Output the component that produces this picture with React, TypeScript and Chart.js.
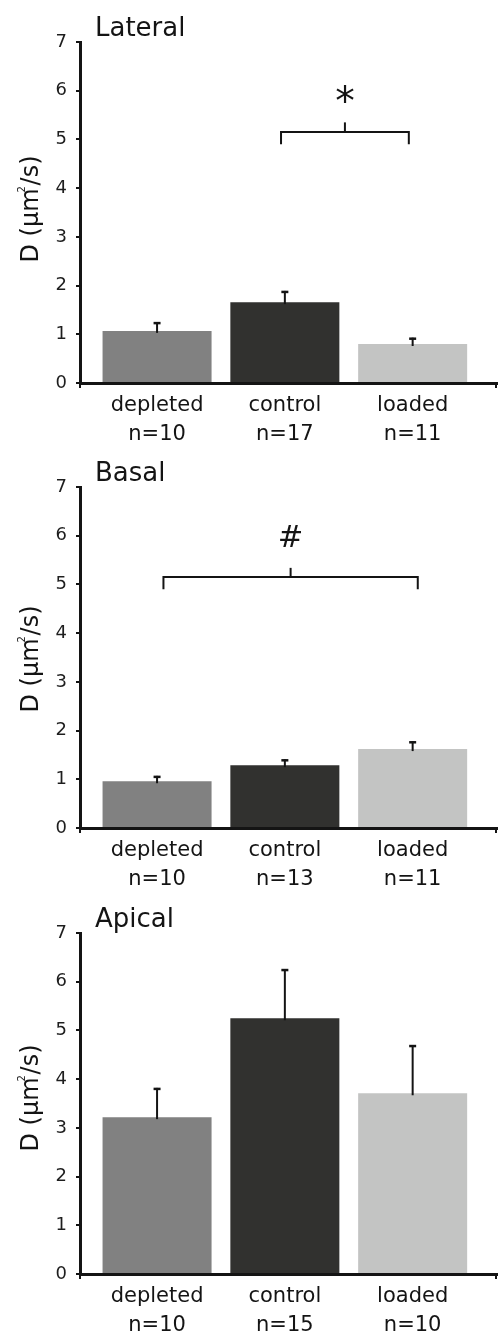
import React, { useEffect, useRef } from "react";
import { Chart, registerables } from "chart.js";

Chart.register(...registerables);

// ---------- data ----------
const categories = ["depleted", "control", "loaded"];

const lateralMeans = [1.07, 1.66, 0.8];
const lateralErrors = [0.18, 0.23, 0.13];
const lateralN = [10, 17, 11];

const basalMeans = [0.96, 1.29, 1.62];
const basalErrors = [0.11, 0.12, 0.16];
const basalN = [10, 13, 11];

const apicalMeans = [3.22, 5.25, 3.71];
const apicalErrors = [0.6, 1.01, 0.99];
const apicalN = [10, 15, 10];

const yMin = 0;
const yMax = 7;

const barColors = ["#818181", "#31312f", "#c3c4c3"];

// significance brackets (data coordinates)
const lateralSig = { from: 0.97, to: 1.97, y: 5.15, drop: 0.25, rise: 0.2, mark: "*", markY: 5.93, markHeight: 18 };
const basalSig = { from: 0.05, to: 2.04, y: 5.15, drop: 0.25, rise: 0.19, mark: "#", markY: 5.99, markHeight: 22 };

const FAMILY = "'DejaVu Sans', Verdana, sans-serif";
const INK = "#141414";

type Sig = typeof lateralSig | null;
type Panel = {
  title: string;
  means: number[];
  errors: number[];
  ns: number[];
  sig: Sig;
  top: number;
  height: number;
  yTitleCenter: number;
};

const panels: Panel[] = [
  { title: "Lateral", means: lateralMeans, errors: lateralErrors, ns: lateralN, sig: lateralSig, top: 0, height: 445, yTitleCenter: 209 },
  { title: "Basal", means: basalMeans, errors: basalErrors, ns: basalN, sig: basalSig, top: 445, height: 446, yTitleCenter: 214 },
  { title: "Apical", means: apicalMeans, errors: apicalErrors, ns: apicalN, sig: null, top: 891, height: 442, yTitleCenter: 207 },
];

const AREA_TOP = 42;
const AREA_BOTTOM = 383;
const AXIS_LEFT = 80;

function PanelChart({ p }: { p: Panel }) {
  const ref = useRef<HTMLCanvasElement | null>(null);

  useEffect(() => {
    const canvas = ref.current;
    if (!canvas) return;

    const overlay = {
      id: "overlay",
      afterDatasetsDraw(chart: any) {
        const ctx: CanvasRenderingContext2D = chart.ctx;
        const xs = chart.scales.x;
        const ys = chart.scales.y;
        const area = chart.chartArea;
        ctx.save();
        ctx.strokeStyle = INK;
        ctx.fillStyle = INK;
        ctx.lineCap = "butt";
        // error bars (upper only)
        p.means.forEach((m, i) => {
          const x = xs.getPixelForValue(i);
          const y0 = ys.getPixelForValue(m);
          const y1 = ys.getPixelForValue(m + p.errors[i]);
          ctx.lineWidth = 2;
          ctx.beginPath();
          ctx.moveTo(x, y0 + 2);
          ctx.lineTo(x, y1);
          ctx.stroke();
          ctx.lineWidth = 2.5;
          ctx.beginPath();
          ctx.moveTo(x - 3.5, y1 + 1);
          ctx.lineTo(x + 3.5, y1 + 1);
          ctx.stroke();
        });
        // small end ticks at the axis corners
        ctx.lineWidth = 2;
        ctx.beginPath();
        ctx.moveTo(area.left, area.bottom);
        ctx.lineTo(area.left, area.bottom + 5);
        ctx.moveTo(area.right - 1, area.bottom);
        ctx.lineTo(area.right - 1, area.bottom + 5);
        ctx.stroke();
        // significance bracket
        if (p.sig) {
          const s = p.sig;
          const xa = xs.getPixelForValue(s.from);
          const xb = xs.getPixelForValue(s.to);
          const xm = (xa + xb) / 2;
          const yl = ys.getPixelForValue(s.y);
          const yd = ys.getPixelForValue(s.y - s.drop);
          const yr = ys.getPixelForValue(s.y + s.rise);
          ctx.lineWidth = 2;
          ctx.beginPath();
          ctx.moveTo(xa, yd);
          ctx.lineTo(xa, yl);
          ctx.lineTo(xb, yl);
          ctx.lineTo(xb, yd);
          ctx.stroke();
          ctx.beginPath();
          ctx.moveTo(xm, yl);
          ctx.lineTo(xm, yr);
          ctx.stroke();
          // mark
          ctx.font = `100px ${FAMILY}`;
          const mm = ctx.measureText(s.mark);
          const h100 = mm.actualBoundingBoxAscent + mm.actualBoundingBoxDescent;
          const size = (100 * s.markHeight) / h100;
          ctx.font = `${size}px ${FAMILY}`;
          const m2 = ctx.measureText(s.mark);
          const cy = ys.getPixelForValue(s.markY);
          const base = cy + (m2.actualBoundingBoxAscent - m2.actualBoundingBoxDescent) / 2;
          ctx.textAlign = "center";
          ctx.textBaseline = "alphabetic";
          ctx.fillText(s.mark, xm, base);
        }
        ctx.restore();
      },
      afterDraw(chart: any) {
        const ctx: CanvasRenderingContext2D = chart.ctx;
        ctx.save();
        ctx.fillStyle = INK;
        // panel title
        ctx.font = `26px ${FAMILY}`;
        ctx.textAlign = "left";
        ctx.textBaseline = "alphabetic";
        ctx.fillText(p.title, 95, 36);
        // y-axis title
        ctx.translate(30, p.yTitleCenter);
        ctx.rotate(-Math.PI / 2);
        const big = `24px ${FAMILY}`;
        const small = `10px ${FAMILY}`;
        ctx.font = big;
        const a = "D (\u00b5m";
        const b = "/s)";
        const wa = ctx.measureText(a).width;
        const wb = ctx.measureText(b).width;
        const ws = 3;
        const total = wa + ws + wb;
        const u = -total / 2;
        const base = 7.5;
        ctx.fillText(a, u, base);
        ctx.font = small;
        ctx.fillText("2", u + wa - 4, base - 13);
        ctx.font = big;
        ctx.fillText(b, u + wa + ws, base);
        ctx.restore();
      },
    };

    const chart = new Chart(canvas, {
      type: "bar",
      data: {
        datasets: [
          {
            data: p.means.map((m, i) => ({ x: i, y: m })),
            backgroundColor: barColors,
            borderWidth: 0,
            categoryPercentage: 1,
            barPercentage: 0.853,
          },
        ],
      },
      options: {
        responsive: false,
        animation: false,
        events: [],
        layout: { padding: { top: AREA_TOP, left: 0, right: 2, bottom: 0 } },
        plugins: {
          legend: { display: false },
          tooltip: { enabled: false },
          title: { display: false },
        },
        scales: {
          x: {
            type: "linear",
            offset: false,
            min: -0.603,
            max: 2.66,
            afterBuildTicks: (s: any) => {
              s.ticks = categories.map((_, i) => ({ value: i }));
            },
            afterFit: (s: any) => {
              s.height = p.height - AREA_BOTTOM;
            },
            grid: { display: false, offset: false },
            border: { display: true, color: INK, width: 3 },
            ticks: {
              autoSkip: false,
              maxRotation: 0,
              minRotation: 0,
              padding: 0,
              color: INK,
              font: { family: FAMILY, size: 21, lineHeight: 1.38 },
              callback: (v: any) => {
                const i = Math.round(Number(v));
                return [categories[i], `n=${p.ns[i]}`];
              },
            },
          },
          y: {
            min: yMin,
            max: yMax,
            afterFit: (s: any) => {
              s.width = AXIS_LEFT;
            },
            grid: { drawOnChartArea: false, drawTicks: true, tickLength: 4, lineWidth: 2, color: INK },
            border: { display: true, color: INK, width: 3 },
            ticks: { stepSize: 1, padding: 9, color: "#1e1e1e", font: { family: FAMILY, size: 18 } },
          },
        },
      } as any,
      plugins: [overlay],
    });

    return () => chart.destroy();
  }, [p]);

  return (
    <div style={{ position: "absolute", left: 0, top: p.top, width: 499, height: p.height }}>
      <canvas ref={ref} width={499} height={p.height} style={{ display: "block" }} />
    </div>
  );
}

export default function App() {
  return (
    <div style={{ position: "absolute", left: 0, top: 0, width: 499, height: 1333, background: "#fff", overflow: "hidden" }}>
      {panels.map((p) => (
        <PanelChart key={p.title} p={p} />
      ))}
    </div>
  );
}
